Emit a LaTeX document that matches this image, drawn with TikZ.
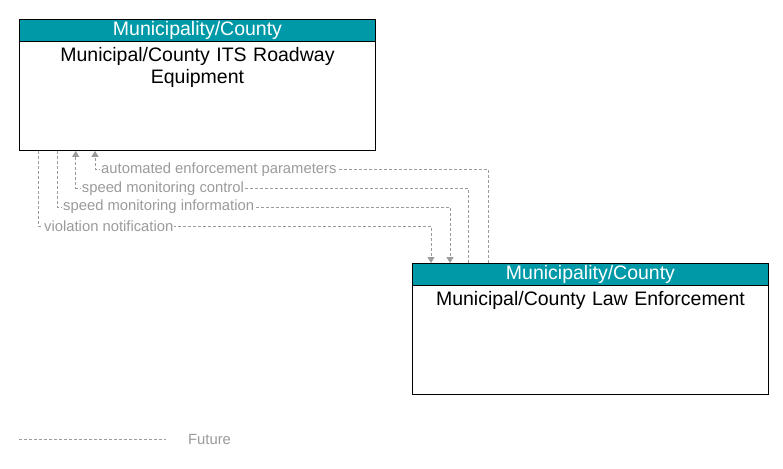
\documentclass[tikz,border=0pt]{standalone}
\usepackage{fontspec}
\setmainfont{Liberation Sans}
\usetikzlibrary{positioning,arrows.meta}
\definecolor{headteal}{RGB}{0,153,168}
\definecolor{flowgray}{RGB}{155,155,155}
\tikzset{
  elembox/.style={draw=black, line width=0.9pt, minimum width=356pt, minimum height=131pt, inner sep=0pt, anchor=north west},
  elemhead/.style={draw=black, line width=0.9pt, fill=headteal, text=white, minimum width=356pt, minimum height=22pt, inner sep=0pt, anchor=north west, font=\fontsize{19.5}{20}\selectfont},
  elemname/.style={text width=340pt, align=center, inner sep=0pt, anchor=north, font=\fontsize{19.5}{22}\selectfont},
  flowline/.style={draw=flowgray, line width=0.9pt, dash pattern=on 3pt off 2pt},
  flow/.style={flowline, -{Triangle[length=6pt,width=7pt]}, flowgray},
  flowlabel/.style={text=flowgray, fill=white, inner sep=1pt, anchor=west, font=\fontsize{14.8}{15}\selectfont}
}
\begin{document}
\begin{tikzpicture}[x=1pt,y=-1pt]
		\useasboundingbox (0,0) rectangle (783,468);
		
		% elements
		\node[elembox] (roadway) at (19,19) {};
		\node[elemhead] (roadwayhead) at (roadway.north west) {Municipality/County};
		\node[elemname, below=5pt of roadwayhead] (roadwayname) {Municipal/County ITS Roadway\\Equipment};
		
		\node[elembox] (lawenf) at (412,263) {};
		\node[elemhead] (lawenfhead) at (lawenf.north west) {Municipality/County};
		\node[elemname, below=5pt of lawenfhead] (lawenfname) {Municipal/County Law Enforcement};
		
		% flows
		\coordinate (aep) at (95,169.5);
		\coordinate (smc) at (75.7,188.3);
		\coordinate (smi) at (57,207);
		\coordinate (vn) at (38,226);
		
		\draw[flow] ([xshift=76pt]lawenf.north west) |- (aep) -- (aep |- roadway.south);
		\draw[flow] ([xshift=56pt]lawenf.north west) |- (smc) -- (smc |- roadway.south);
		\draw[flow] ([xshift=38pt]roadway.south west) -- (smi) -| ([xshift=38pt]lawenf.north west);
		\draw[flow] ([xshift=19pt]roadway.south west) -- (vn) -| ([xshift=19pt]lawenf.north west);
		
		\node[flowlabel] (aeplabel) at ([xshift=5pt]aep) {automated enforcement parameters};
		\node[flowlabel] (smclabel) at ([xshift=5pt]smc) {speed monitoring control};
		\node[flowlabel] (smilabel) at ([xshift=5pt]smi) {speed monitoring information};
		\node[flowlabel] (vnlabel) at ([xshift=5pt]vn) {violation notification};
		
		% legend
		\coordinate (legstart) at (19,439);
		\coordinate (legend) at (166,439);
		\draw[flowline] (legstart) -- (legend);
		\node[flowlabel, right=21pt of legend] (legfuture) {Future};
\end{tikzpicture}
\end{document}
